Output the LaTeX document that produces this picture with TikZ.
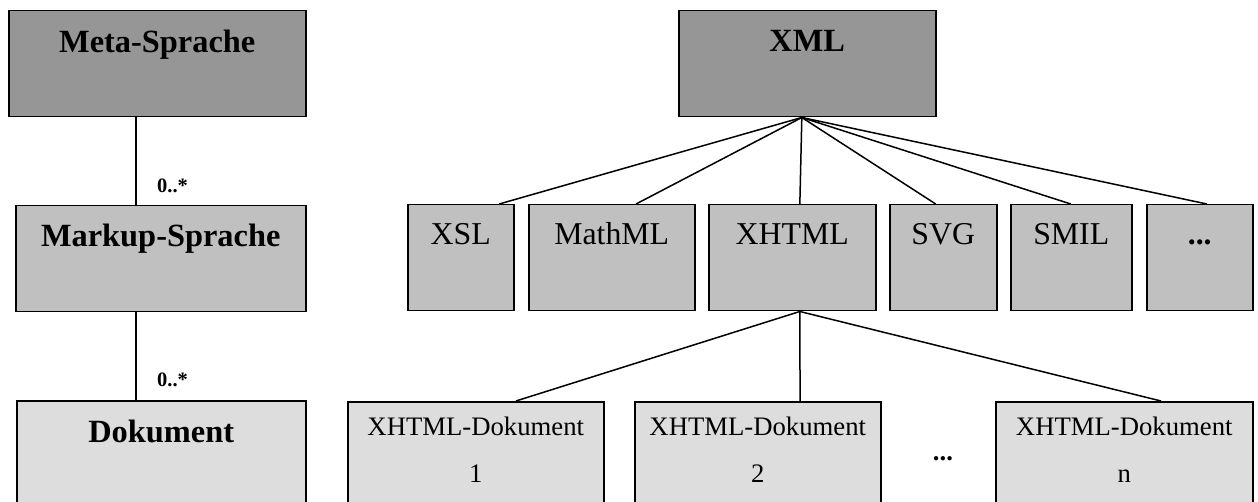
\documentclass[tikz,border=0pt]{standalone}
\usepackage{fontspec}
\setmainfont{Liberation Serif}
\usetikzlibrary{calc}
\definecolor{metagray}{HTML}{969696}
\definecolor{langgray}{HTML}{C0C0C0}
\definecolor{docgray}{HTML}{DDDDDD}
\tikzset{
  box/.style={draw=black, line width=1.5pt, rectangle, anchor=north west, inner sep=0pt},
  meta/.style={box, fill=metagray},
  lang/.style={box, fill=langgray},
  doc/.style={box, fill=docgray},
  bigbold/.style={anchor=base, inner sep=0pt, font=\fontsize{32.4}{38}\bfseries},
  midtext/.style={anchor=base, inner sep=0pt, font=\fontsize{31.8}{38}\selectfont},
  smalltext/.style={anchor=base, inner sep=0pt, font=\fontsize{26.7}{32}\selectfont},
  mult/.style={anchor=base west, inner sep=0pt, font=\fontsize{20.5}{24}\bfseries},
  conn/.style={draw=black, line width=1.5pt}
}
\begin{document}
\begin{tikzpicture}[x=1pt,y=-1pt]
\useasboundingbox (0,0) rectangle (1258,502);
\clip (0,0) rectangle (1258,502);

% left column: generic hierarchy
\node[meta, minimum width=297pt, minimum height=106pt] (metasp) at (8,10) {};
\node[lang, minimum width=290pt, minimum height=106pt] (markup) at (15,205) {};
\node[doc,  minimum width=289pt, minimum height=130pt] (dok)    at (16,400) {};

\node[bigbold] (tmeta)   at ($(metasp.north)+(0,43)$) {Meta-Sprache};
\node[bigbold] (tmarkup) at ($(markup.north)+(0,42)$) {Markup-Sprache};
\node[bigbold] (tdok)    at ($(dok.north)+(0,42)$)    {Dokument};

\coordinate (axis) at (136,0);
\draw[conn] (metasp.south -| axis) -- (markup.north -| axis);
\draw[conn] (markup.south -| axis) -- (dok.north -| axis);
\node[mult] (m1) at (157,193) {0..*};
\node[mult] (m2) at (157,387) {0..*};

% right side: XML and its applications
\node[meta, minimum width=257pt, minimum height=106pt] (xml) at (678,10) {};
\node[bigbold] (txml) at ($(xml.north)+(0,42)$) {XML};

\node[lang, minimum width=106pt, minimum height=106pt] (xsl)    at (407,204) {};
\node[lang, minimum width=166pt, minimum height=106pt] (mathml) at (528,204) {};
\node[lang, minimum width=167pt, minimum height=106pt] (xhtml)  at (708,204) {};
\node[lang, minimum width=107pt, minimum height=106pt] (svg)    at (889,204) {};
\node[lang, minimum width=121pt, minimum height=106pt] (smil)   at (1010,204) {};
\node[lang, minimum width=106pt, minimum height=106pt] (more)   at (1146,204) {};

\node[midtext] (txsl)    at ($(xsl.north)+(0,41)$)    {XSL};
\node[midtext] (tmathml) at ($(mathml.north)+(0,41)$) {MathML};
\node[midtext] (txhtml)  at ($(xhtml.north)+(0,41)$)  {XHTML};
\node[midtext] (tsvg)    at ($(svg.north)+(0,41)$)    {SVG};
\node[midtext] (tsmil)   at ($(smil.north)+(0,41)$)   {SMIL};
\node[midtext] (tmore)   at ($(more.north)+(0,41)$)   {\textbf{...}};

\coordinate (hub) at ($(xml.south west)!0.479!(xml.south east)$);
\draw[conn] (hub) -- ($(xsl.north west)!0.858!(xsl.north east)$);
\draw[conn] (hub) -- ($(mathml.north west)!0.645!(mathml.north east)$);
\draw[conn] (hub) -- ($(xhtml.north west)!0.545!(xhtml.north east)$);
\draw[conn] (hub) -- ($(svg.north west)!0.43!(svg.north east)$);
\draw[conn] (hub) -- ($(smil.north west)!0.496!(smil.north east)$);
\draw[conn] (hub) -- ($(more.north west)!0.566!(more.north east)$);

% XHTML documents
\node[doc, minimum width=256pt, minimum height=130pt] (d1) at (347,401) {};
\node[doc, minimum width=246pt, minimum height=130pt] (d2) at (634,401) {};
\node[doc, minimum width=257pt, minimum height=130pt] (dn) at (995,401) {};

\foreach \d/\n in {d1/1, d2/2, dn/n}{
  \node[smalltext] (t\d a) at ($(\d.north)+(0,34)$) {XHTML-Dokument};
  \node[smalltext] (t\d b) at ($(\d.north)+(0,81)$) {\n};
}
\node[smalltext] (dots) at (943,460) {\textbf{...}};

\coordinate (xhub) at ($(xhtml.south west)!0.545!(xhtml.south east)$);
\draw[conn] (xhub) -- ($(d1.north west)!0.656!(d1.north east)$);
\draw[conn] (xhub) -- ($(d2.north west)!0.671!(d2.north east)$);
\draw[conn] (xhub) -- ($(dn.north west)!0.642!(dn.north east)$);
\end{tikzpicture}
\end{document}
